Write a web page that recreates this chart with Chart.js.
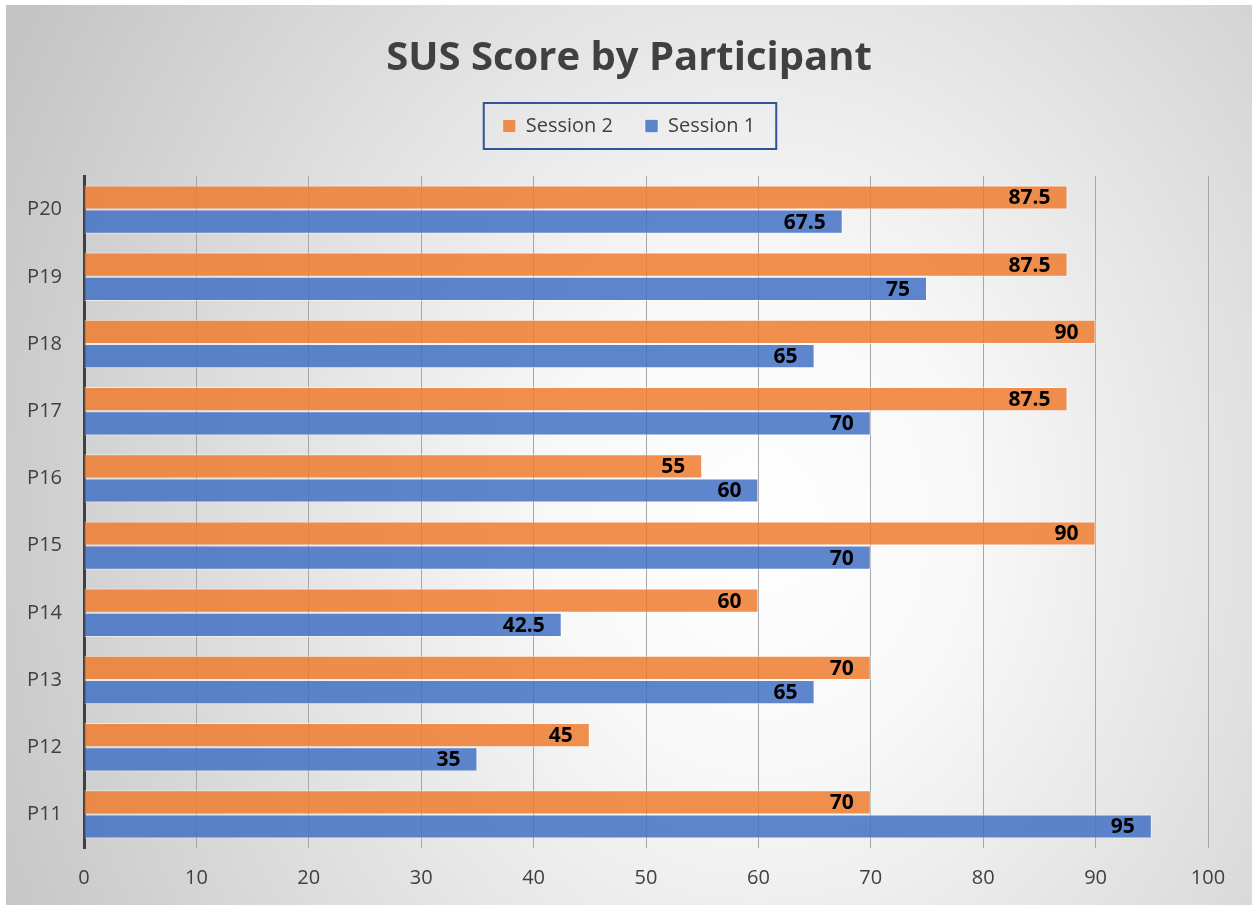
<!DOCTYPE html>
<html>
<head>
<meta charset="utf-8">
<title>SUS Score by Participant</title>
<script src="https://cdn.jsdelivr.net/npm/chart.js@4/dist/chart.umd.min.js"></script>
<style>
  body { margin: 0; background: #ffffff; }
  #wrap { width: 1252px; height: 905px; }
</style>
</head>
<body>
<div id="wrap"><canvas id="myChart" width="1252" height="905"></canvas></div>
<script>
'use strict';

var participants = ['P20', 'P19', 'P18', 'P17', 'P16', 'P15', 'P14', 'P13', 'P12', 'P11'];
var session2 = [87.5, 87.5, 90, 87.5, 55, 90, 60, 70, 45, 70];
var session1 = [67.5, 75, 65, 70, 60, 70, 42.5, 65, 35, 95];
var xMin = 0;
var xMax = 100;
var xStep = 10;

var textColor = '#404040';
var fontName = "'Open Sans', 'Noto Sans', sans-serif";

// grey radial fill behind the whole chart
var backgroundPlugin = {
    id: 'background',
    beforeDraw: function(chart) {
        var ctx = chart.ctx;
        var cx = 760, cy = 520, rx = 850, ry = 1000;
        ctx.save();
        ctx.fillStyle = '#ffffff';
        ctx.fillRect(0, 0, chart.width, chart.height);
        ctx.translate(cx, cy);
        ctx.scale(1, ry / rx);
        var grad = ctx.createRadialGradient(0, 0, 0, 0, 0, rx);
        grad.addColorStop(0, '#ffffff');
        grad.addColorStop(0.25, '#f8f8f8');
        grad.addColorStop(1, '#c4c4c4');
        ctx.fillStyle = grad;
        var k = rx / ry;
        ctx.fillRect(6 - cx, (5 - cy) * k, chart.width - 6, (chart.height - 5) * k);
        ctx.restore();
    }
};

// frame around the legend
var legendBoxPlugin = {
    id: 'legendBox',
    afterDraw: function(chart) {
        var boxes = chart.legend.legendHitBoxes;
        if (!boxes || !boxes.length) return;
        var left = boxes[0].left;
        var right = boxes[boxes.length - 1].left + boxes[boxes.length - 1].width;
        var mid = boxes[0].top + boxes[0].height / 2;
        var ctx = chart.ctx;
        ctx.save();
        ctx.strokeStyle = '#2f5597';
        ctx.lineWidth = 2;
        ctx.strokeRect(left - 19, mid - 23, right - left + 40, 46);
        ctx.restore();
    }
};

// value written inside the end of each bar
var valueLabelPlugin = {
    id: 'valueLabels',
    afterDatasetsDraw: function(chart) {
        var ctx = chart.ctx;
        ctx.save();
        ctx.font = 'bold 21px ' + fontName;
        ctx.fillStyle = '#000000';
        ctx.textAlign = 'right';
        ctx.textBaseline = 'middle';
        chart.data.datasets.forEach(function(ds, i) {
            var meta = chart.getDatasetMeta(i);
            meta.data.forEach(function(bar, j) {
                ctx.fillText(String(ds.data[j]), bar.x - 17, bar.y + 1);
            });
        });
        ctx.restore();
    }
};

var ctx = document.getElementById('myChart').getContext('2d');

var chart = new Chart(ctx, {
    type: 'bar',
    data: {
        labels: participants,
        datasets: [{
            label: 'Session 2',
            data: session2,
            backgroundColor: 'rgba(237, 125, 49, 0.86)',
            borderColor: 'rgba(255, 255, 255, 0.55)',
            borderWidth: 1,
            categoryPercentage: 0.72,
            barPercentage: 1.0
        }, {
            label: 'Session 1',
            data: session1,
            backgroundColor: 'rgba(68, 114, 196, 0.86)',
            borderColor: 'rgba(255, 255, 255, 0.55)',
            borderWidth: 1,
            categoryPercentage: 0.72,
            barPercentage: 1.0
        }]
    },
    options: {
        indexAxis: 'y',
        responsive: false,
        animation: false,
        devicePixelRatio: 1,
        layout: {
            padding: { top: 5, left: 6, right: 0, bottom: 0 }
        },
        plugins: {
            title: {
                display: true,
                text: 'SUS Score by Participant',
                color: textColor,
                font: { family: fontName, size: 40, weight: 'bold' },
                padding: { top: 30, bottom: 1 }
            },
            legend: {
                display: true,
                labels: {
                    color: textColor,
                    font: { family: fontName, size: 20 },
                    boxWidth: 13,
                    boxHeight: 13,
                    padding: 32
                }
            },
            tooltip: { enabled: false }
        },
        scales: {
            x: {
                min: xMin,
                max: xMax,
                ticks: {
                    stepSize: xStep,
                    color: textColor,
                    font: { family: fontName, size: 20 },
                    padding: 18
                },
                grid: {
                    color: '#a6a6a6',
                    lineWidth: 1,
                    drawTicks: false
                },
                border: { display: false },
                afterFit: function(scale) { scale.height = 57; }
            },
            gapTop: {
                type: 'linear',
                axis: 'x',
                position: 'top',
                display: true,
                ticks: { display: false },
                grid: { display: false, drawTicks: false },
                border: { display: false },
                afterFit: function(scale) { scale.height = 30; }
            },
            y: {
                ticks: {
                    color: textColor,
                    font: { family: fontName, size: 20 },
                    padding: 22
                },
                grid: { display: false, drawTicks: false },
                border: { display: true, color: '#404040', width: 3 },
                afterFit: function(scale) { scale.width = 78; }
            },
            spacer: {
                type: 'linear',
                axis: 'y',
                position: 'right',
                display: true,
                ticks: { display: false },
                grid: { display: false, drawTicks: false },
                border: { display: false },
                afterFit: function(scale) { scale.width = 44; }
            }
        }
    },
    plugins: [backgroundPlugin, legendBoxPlugin, valueLabelPlugin]
});
</script>
</body>
</html>
